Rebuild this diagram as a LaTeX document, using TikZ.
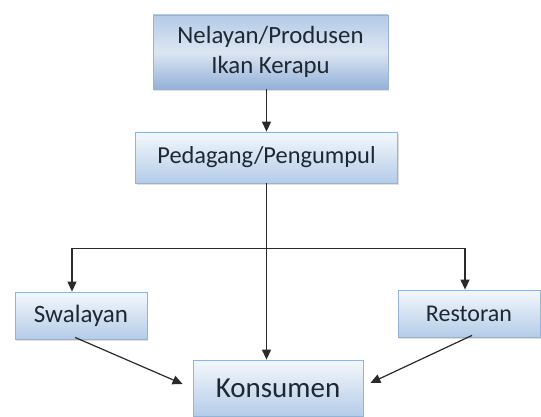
\documentclass[tikz,border=0pt]{standalone}
\usepackage{fontspec}
\setmainfont{Carlito}
\usetikzlibrary{arrows.meta,shadows,calc}
\definecolor{boxborder}{HTML}{95B3D7}
\definecolor{boxlow}{HTML}{B4CCE8}
\definecolor{boxtop}{HTML}{F4F8FC}
\definecolor{topmid}{HTML}{DCE6F2}
\definecolor{toplow}{HTML}{93B1DA}
\definecolor{toptop}{HTML}{B4CAE6}
\definecolor{linec}{HTML}{2A2A2A}
\definecolor{textc}{HTML}{1E2833}
\tikzset{
  flowbox/.style={draw=boxborder, line width=0.8pt, top color=boxtop, bottom color=boxlow,
    inner sep=0pt, align=center, text=textc,
    drop shadow={shadow xshift=1pt, shadow yshift=-2pt, opacity=0.25}},
  headbox/.style={flowbox, top color=toptop, bottom color=toplow, middle color=topmid},
  arr/.style={draw=linec, line width=1.2pt, -{Triangle[width=9pt,length=10pt]}}
}
\begin{document}
\begin{tikzpicture}[x=1pt,y=-1pt]
\useasboundingbox[fill=white] (0,0) rectangle (541,417);
\node[headbox, minimum width=235, minimum height=74, font=\fontsize{24.8}{30}\selectfont] (top) at (270.5,52) {Nelayan/Produsen\\Ikan Kerapu};
\node[flowbox, minimum width=262, minimum height=51, font=\fontsize{24.4}{29}\selectfont] (ped) at (266.5,157.5) {Pedagang/Pengumpul};
\node[flowbox, minimum width=132, minimum height=47, font=\fontsize{25}{29}\selectfont] (swa) at (81,315.5) {Swalayan};
\node[flowbox, minimum width=142, minimum height=47, font=\fontsize{24}{29}\selectfont] (res) at (469,313.5) {Restoran};
\node[flowbox, minimum width=170, minimum height=56, font=\fontsize{29}{34}\selectfont] (kon) at (278,388) {Konsumen};
\draw[arr] (top.south -| ped.north) -- (ped.north);
\draw[arr] (ped.south) -- (ped.south |- kon.north);
\coordinate (j) at ($(ped.south)+(0,65)$);
\draw[arr] (j) -| ([xshift=-9pt]swa.north);
\draw[arr] (j) -| ([xshift=-4pt]res.north);
\draw[arr] ([xshift=-6pt,yshift=2pt]swa.south) -- ([xshift=-10pt,yshift=4pt]kon.west);
\draw[arr] ([xshift=3pt,yshift=2pt]res.south) -- ([xshift=7pt,yshift=5pt]kon.east);
\end{tikzpicture}
\end{document}
